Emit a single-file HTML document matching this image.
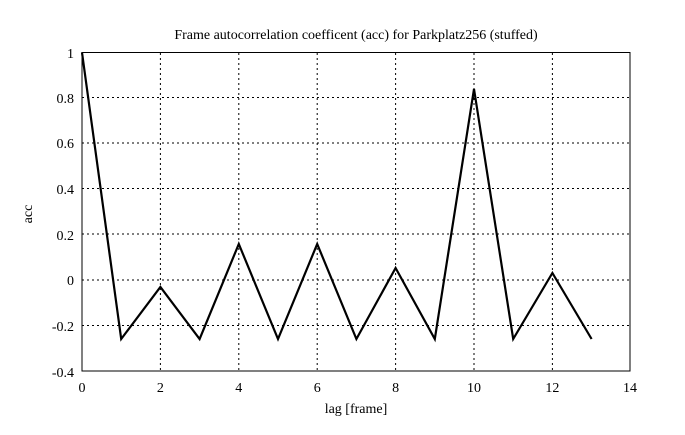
<!DOCTYPE html>
<html><head><style>body{margin:0;background:#fff}svg text{font-family:"Liberation Serif",serif;fill:#000}</style></head>
<body>
<svg width="685" height="430" xmlns="http://www.w3.org/2000/svg">
<rect width="685" height="430" fill="#fff"/>
<g stroke="#000" stroke-width="1" stroke-dasharray="2,3">
<line x1="160.4" y1="53" x2="160.4" y2="371"/>
<line x1="238.8" y1="53" x2="238.8" y2="371"/>
<line x1="317.2" y1="53" x2="317.2" y2="371"/>
<line x1="395.6" y1="53" x2="395.6" y2="371"/>
<line x1="474" y1="53" x2="474" y2="371"/>
<line x1="552.4" y1="53" x2="552.4" y2="371"/>
<line x1="82" y1="97.5" x2="630" y2="97.5"/>
<line x1="82" y1="143" x2="630" y2="143"/>
<line x1="82" y1="188.5" x2="630" y2="188.5"/>
<line x1="82" y1="234" x2="630" y2="234"/>
<line x1="82" y1="280" x2="630" y2="280"/>
<line x1="82" y1="325.5" x2="630" y2="325.5"/>
</g>
<rect x="82" y="52.5" width="548" height="318.5" fill="none" stroke="#000" stroke-width="1"/>
<polyline fill="none" stroke="#000" stroke-width="2.2" stroke-linejoin="miter" points="82,52.5 121.2,339 160.4,287 199.6,339 238.8,244 278,339 317.2,244 356.4,339 395.6,268 434.8,339 474,89 513.2,339 552.4,273 591.6,339"/>
<g font-size="14" text-anchor="end">
<text x="74" y="58">1</text>
<text x="74" y="103">0.8</text>
<text x="74" y="148">0.6</text>
<text x="74" y="194">0.4</text>
<text x="74" y="240">0.2</text>
<text x="74" y="285">0</text>
<text x="74" y="331">-0.2</text>
<text x="74" y="377">-0.4</text>
</g>
<g font-size="14" text-anchor="middle">
<text x="82" y="392">0</text>
<text x="160.4" y="392">2</text>
<text x="238.8" y="392">4</text>
<text x="317.2" y="392">6</text>
<text x="395.6" y="392">8</text>
<text x="474" y="392">10</text>
<text x="552.4" y="392">12</text>
<text x="630" y="392">14</text>
<text x="356" y="413">lag [frame]</text>
<text x="356" y="39">Frame autocorrelation coefficent (acc) for Parkplatz256 (stuffed)</text>
<text x="0" y="0" transform="translate(32,214) rotate(-90)">acc</text>
</g>
</svg>
</body></html>
